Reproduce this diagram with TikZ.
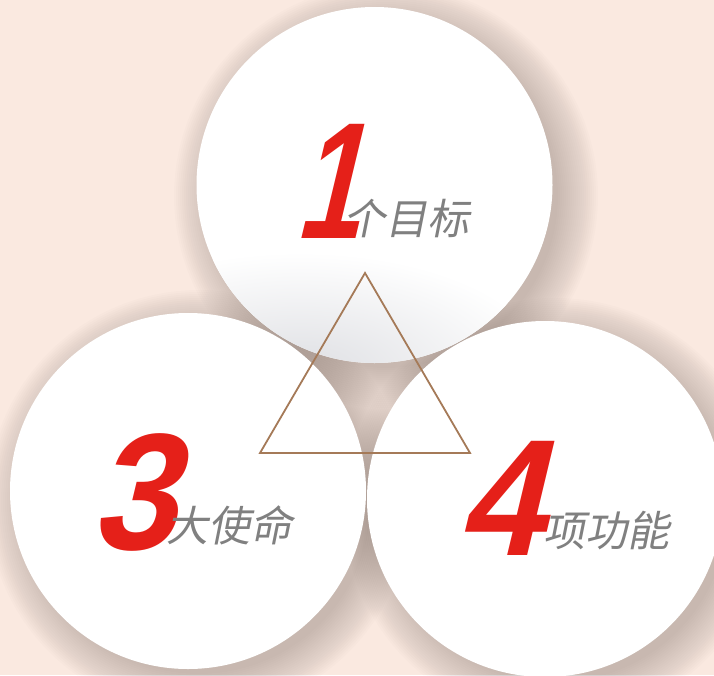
\documentclass[tikz,border=0pt]{standalone}
\usepackage{fontspec}
\newfontfamily\digitfont[FakeSlant=0.24,FakeStretch=0.92]{Liberation Sans Bold}
\newfontfamily\onefont[FakeSlant=0.24,FakeStretch=0.7]{Liberation Sans Bold}
\newfontfamily\cjk[FakeSlant=0.2]{Noto Sans CJK SC}
\definecolor{bg}{HTML}{FAE9E0}
\definecolor{shad}{HTML}{3A2C26}
\definecolor{numred}{HTML}{E52019}
\definecolor{txtgray}{HTML}{808080}
\definecolor{tri}{HTML}{A57A58}
\definecolor{innergray}{HTML}{DEDFE3}
\tikzset{
  disc/.style={circle, fill=white, minimum size=356pt, inner sep=0pt},
  num/.style={anchor=base west, inner sep=0pt, text=numred, font=\digitfont\fontsize{166}{166}\selectfont},
  lbl/.style={anchor=base west, inner sep=0pt, text=txtgray, font=\cjk\fontsize{42}{42}\selectfont},
  triline/.style={draw=tri, line width=1.8pt, line join=miter},
  shadowlayer/.style={fill=shad, fill opacity=0.012}
}
\begin{document}
\begin{tikzpicture}[x=1pt, y=-1pt]
\useasboundingbox (0,0) rectangle (714,675);
\fill[bg] (0,0) rectangle (714,675);
% soft shadows
\foreach \cx/\cy in {386/196, 199/502, 556/510}{
  \foreach \r in {172,174,...,212}{
    \fill[shadowlayer] (\cx,\cy) circle (\r pt);
  }
}
% circles
\node[disc] (c3) at (188,491) {};
\node[disc] (c4) at (545,499) {};
\node[disc] (c1) at (374.5,185) {};
\begin{scope}
  \clip (374.5,185) circle (178pt);
  \shade[inner color=innergray, outer color=white] (300,372) ellipse (250pt and 120pt);
\end{scope}
% triangle
\coordinate (ta) at (365,273);
\coordinate (tl) at (260,453);
\coordinate (tr) at (470,453);
\draw[triline] (ta) -- (tl) -- (tr) -- cycle;
% texts
\node[num, font=\onefont\fontsize{166}{166}\selectfont] (n1) at (294,238) {1};
\node[lbl] (l1) at (343,234) {个目标};
\node[num] (n3) at (90,549) {3};
\node[lbl] (l3) at (166,541) {大使命};
\node[num] (n4) at (457,555) {4};
\node[lbl] (l4) at (543,546) {项功能};
\end{tikzpicture}
\end{document}
